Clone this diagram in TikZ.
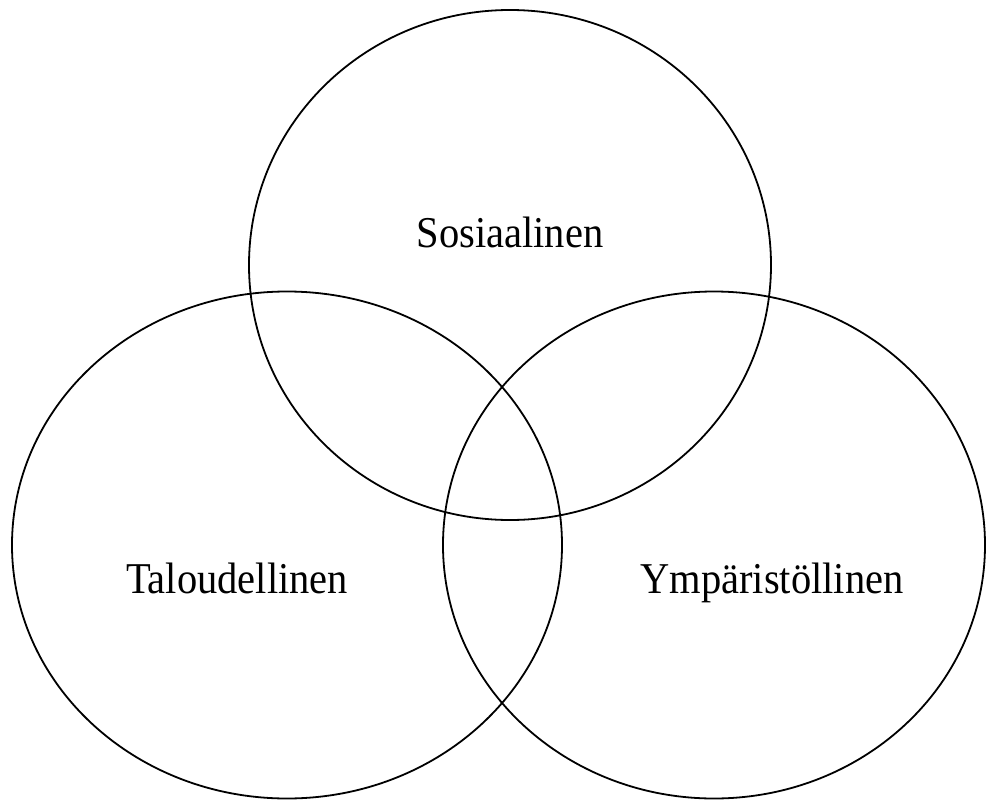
\documentclass[tikz,border=0pt]{standalone}
\usepackage{fontspec}
\setmainfont{Liberation Serif}
\usepackage{tikz}
\usetikzlibrary{shapes.geometric}

\begin{document}
\begin{tikzpicture}[x=1pt,y=-1pt]
		\useasboundingbox (0,0) rectangle (986,803);
		\begin{scope}[every node/.style={ellipse,draw=black,line width=1.8pt,inner sep=0pt}]
			\node[minimum width=522pt,minimum height=510pt] (sos) at (510,265) {};
			\node[minimum width=550pt,minimum height=507pt] (tal) at (287,545) {};
			\node[minimum width=542pt,minimum height=507pt] (ymp) at (714,545) {};
		\end{scope}
		
		\begin{scope}[every node/.style={font=\fontsize{44}{52}\selectfont,inner sep=0pt,anchor=base,xscale=0.92}]
			\node (sosl) at (510,247) {Sosiaalinen};
			\node (tall) at (237,593) {Taloudellinen};
			\node (ympl) at (772,593) {Ympäristöllinen};
		\end{scope}
		\end{tikzpicture}
\end{document}
